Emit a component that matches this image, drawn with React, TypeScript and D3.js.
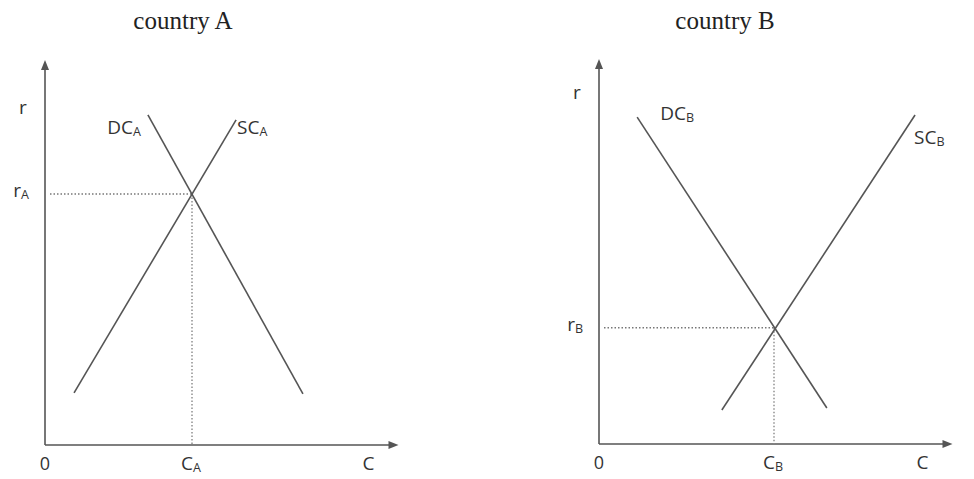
import React from "react";
import * as d3 from "d3";

// ---- data (model units) ----
const panelTitles = ["country A", "country B"];
const countrySubs = ["A", "B"];
// curve endpoints [x, y]
const demandA = [[29.4, 94.3], [73.7, 14.6]];
const supplyA = [[8.3, 14.9], [54.6, 92.9]];
const equilibriumA = [42, 71.7];
const demandB = [[10.9, 93.4], [65.1, 10.3]];
const supplyB = [[35.1, 9.7], [90.3, 94.0]];
const equilibriumB = [50, 33.2];
const axisMax = [101, 110];

const W = 974;
const H = 479;
const ink = "#555";
const sans = "'Open Sans', 'DejaVu Sans', sans-serif";
const serif = "'Liberation Serif', 'DejaVu Serif', serif";

type Pt = number[];

function Sub({ x, y, main, sub, anchor = "start", size = 19 }: any) {
  return (
    <text x={x} y={y} textAnchor={anchor} fontFamily={sans} fontSize={size} fill="#333" dominantBaseline="middle">
      {main}
      <tspan fontSize={size * 0.66} dy={size * 0.2}>{sub}</tspan>
    </text>
  );
}

function Panel({ ox, oy, title, sub, demand, supply, eq, dLabel, sLabel, titleX }: any) {
  const x = d3.scaleLinear().domain([0, 100]).range([ox, ox + 350]);
  const y = d3.scaleLinear().domain([0, 100]).range([oy, oy - 350]);
  const line = d3.line<Pt>().x((d) => x(d[0])).y((d) => y(d[1]));
  const xEnd = x(axisMax[0]);
  const yEnd = y(axisMax[1]);
  const ex = x(eq[0]);
  const ey = y(eq[1]);
  return (
    <g>
      <text x={titleX} y={29} textAnchor="middle" fontFamily={serif} fontSize={25} fill="#222">{title}</text>
      {/* axes */}
      <line x1={ox} y1={oy} x2={ox} y2={yEnd + 6} stroke={ink} strokeWidth={1.6} />
      <line x1={ox} y1={oy} x2={xEnd - 6} y2={oy} stroke={ink} strokeWidth={1.6} />
      <path d={`M${ox - 4},${yEnd + 10}L${ox},${yEnd}L${ox + 4},${yEnd + 10}Z`} fill={ink} />
      <path d={`M${xEnd - 10},${oy - 4}L${xEnd},${oy}L${xEnd - 10},${oy + 4}Z`} fill={ink} />
      {/* dotted guides */}
      <line x1={ox + 5} y1={ey} x2={ex} y2={ey} stroke="#777" strokeWidth={1.4} strokeDasharray="1.5,2" />
      <line x1={ex} y1={ey} x2={ex} y2={oy} stroke="#888" strokeWidth={1.4} strokeDasharray="1.5,2" />
      {/* curves */}
      <path d={line(demand) || ""} stroke={ink} strokeWidth={1.6} fill="none" />
      <path d={line(supply) || ""} stroke={ink} strokeWidth={1.6} fill="none" />
      {/* labels */}
      <Sub x={dLabel[0]} y={dLabel[1]} main="DC" sub={sub} anchor={dLabel[2]} />
      <Sub x={sLabel[0]} y={sLabel[1]} main="SC" sub={sub} anchor="start" />
      <text x={ox - 22} y={sub === "A" ? y(96) : y(100)} fontFamily={sans} fontSize={19} fill="#333" textAnchor="middle" dominantBaseline="middle">r</text>
      <Sub x={ox - 16} y={ey - 2} main="r" sub={sub} anchor="end" />
      <text x={ox} y={oy + 20} fontFamily={sans} fontSize={18} fill="#333" textAnchor="middle" dominantBaseline="middle">0</text>
      <Sub x={ex - 1} y={oy + 20} main="C" sub={sub} anchor="middle" />
      <text x={xEnd - 30} y={oy + 20} fontFamily={sans} fontSize={19} fill="#333" textAnchor="middle" dominantBaseline="middle">C</text>
    </g>
  );
}

export default function App() {
  const xa = d3.scaleLinear().domain([0, 100]).range([45, 395]);
  const ya = d3.scaleLinear().domain([0, 100]).range([445, 95]);
  const xb = d3.scaleLinear().domain([0, 100]).range([599, 949]);
  const yb = d3.scaleLinear().domain([0, 100]).range([444, 94]);
  return (
    <svg width={W} height={H} style={{ position: "absolute", left: 0, top: 0, background: "#fff" }}>
      <Panel
        ox={45}
        oy={445}
        title={panelTitles[0]}
        sub={countrySubs[0]}
        demand={demandA}
        supply={supplyA}
        eq={equilibriumA}
        titleX={183}
        dLabel={[xa(demandA[0][0]) - 7, ya(demandA[0][1]) + 14, "end"]}
        sLabel={[xa(supplyA[1][0]) + 1, ya(supplyA[1][1]) + 9]}
      />
      <Panel
        ox={599}
        oy={444}
        title={panelTitles[1]}
        sub={countrySubs[1]}
        demand={demandB}
        supply={supplyB}
        eq={equilibriumB}
        titleX={725}
        dLabel={[xb(demandB[0][0]) + 23, yb(demandB[0][1]) - 2, "start"]}
        sLabel={[xb(supplyB[1][0]) - 1, yb(supplyB[1][1]) + 24]}
      />
    </svg>
  );
}
